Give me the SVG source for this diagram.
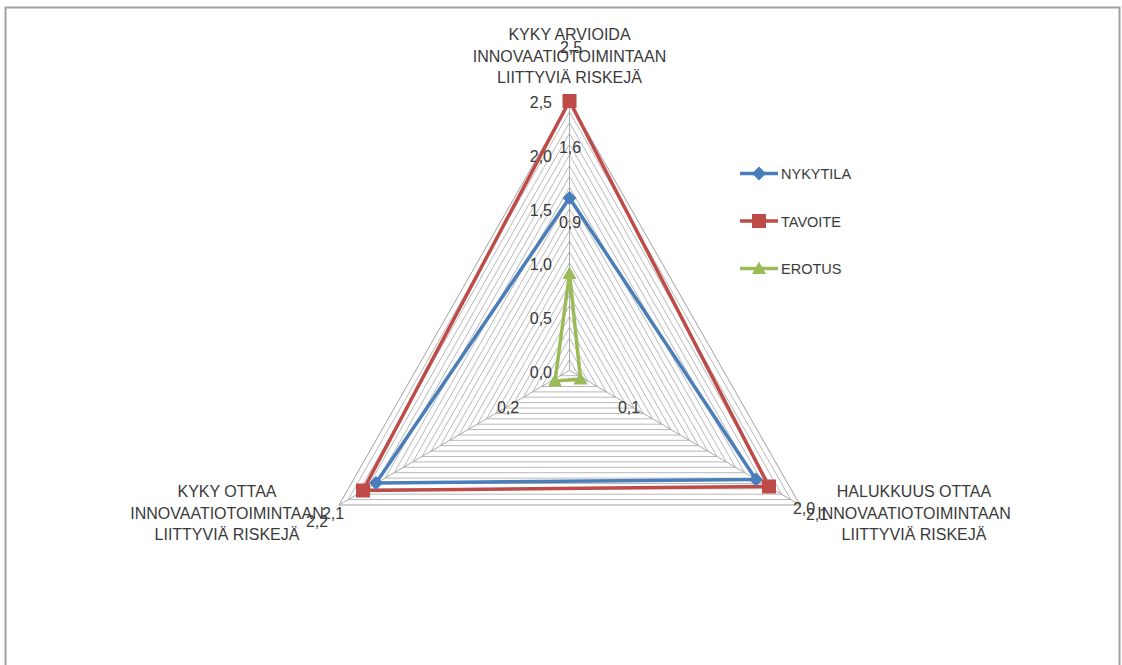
<svg xmlns="http://www.w3.org/2000/svg" width="1122" height="665" viewBox="0 0 1122 665">
  <style>
    text { font-family: "Liberation Sans", Arial, sans-serif; fill: #3a3a3a; }
    .title { font-size: 16px; text-anchor: middle; }
    .tick { font-size: 16px; text-anchor: end; }
    .dl { font-size: 16px; text-anchor: middle; }
    .leg { font-size: 14.5px; }
    .grid polygon { fill: none; stroke: #b9b9b9; stroke-width: 1; }
    .grid .outer { stroke: #a0a0a0; }
    .axis line { stroke: #aaaaaa; stroke-width: 1; }
    .s-blue { fill: none; stroke: #4a7ebb; stroke-width: 3.5; stroke-linejoin: round; }
    .s-red { fill: none; stroke: #be4b48; stroke-width: 3.5; stroke-linejoin: miter; }
    .s-green { fill: none; stroke: #9bbb59; stroke-width: 3.5; stroke-linejoin: miter; }
  </style>
  <defs>
    <path id="diamond" d="M0,-7 L7,0 L0,7 L-7,0 Z" fill="#4a7ebb"/>
    <rect id="square" x="-7" y="-7" width="14" height="14" fill="#be4b48"/>
    <path id="tri" d="M0,-7 L7,5.5 L-7,5.5 Z" fill="#9bbb59"/>
  </defs>

  <rect width="1122" height="665" fill="#ffffff"/>
  <!-- chart frame -->
  <rect x="5.5" y="7.5" width="1114" height="680" fill="none" stroke="#a0a0a0" stroke-width="2"/>

  <!-- radar grid: one triangle every 0.1 up to 2.5 -->
  <g id="grid" class="grid">
    <polygon points="569.5,359.5 560.3,375.7 578.7,375.7"/>
    <polygon points="569.5,348.8 551.1,381.1 587.9,381.1"/>
    <polygon points="569.5,338.0 541.8,386.5 597.2,386.5"/>
    <polygon points="569.5,327.2 532.6,391.9 606.4,391.9"/>
    <polygon points="569.5,316.4 523.4,397.2 615.6,397.2"/>
    <polygon points="569.5,305.7 514.2,402.6 624.8,402.6"/>
    <polygon points="569.5,294.9 505.0,408.0 634.0,408.0"/>
    <polygon points="569.5,284.1 495.7,413.4 643.3,413.4"/>
    <polygon points="569.5,273.4 486.5,418.8 652.5,418.8"/>
    <polygon points="569.5,262.6 477.3,424.2 661.7,424.2"/>
    <polygon points="569.5,251.8 468.1,429.6 670.9,429.6"/>
    <polygon points="569.5,241.0 458.9,435.0 680.1,435.0"/>
    <polygon points="569.5,230.3 449.6,440.3 689.4,440.3"/>
    <polygon points="569.5,219.5 440.4,445.7 698.6,445.7"/>
    <polygon points="569.5,208.7 431.2,451.1 707.8,451.1"/>
    <polygon points="569.5,198.0 422.0,456.5 717.0,456.5"/>
    <polygon points="569.5,187.2 412.8,461.9 726.2,461.9"/>
    <polygon points="569.5,176.4 403.5,467.3 735.5,467.3"/>
    <polygon points="569.5,165.6 394.3,472.7 744.7,472.7"/>
    <polygon points="569.5,154.9 385.1,478.1 753.9,478.1"/>
    <polygon points="569.5,144.1 375.9,483.5 763.1,483.5"/>
    <polygon points="569.5,133.3 366.7,488.8 772.3,488.8"/>
    <polygon points="569.5,122.5 357.4,494.2 781.6,494.2"/>
    <polygon points="569.5,111.8 348.2,499.6 790.8,499.6"/>
    <polygon class="outer" points="569.5,101.0 339.0,505.0 800.0,505.0"/>
  </g>
  <g id="axes" class="axis">
    <line x1="569.5" y1="370.3" x2="569.5" y2="101"/>
    <line x1="569.5" y1="370.3" x2="339" y2="505"/>
    <line x1="569.5" y1="370.3" x2="800" y2="505"/>
  </g>

  <!-- value scale on the vertical axis -->
  <g id="scale">
    <text class="tick" x="552" y="107.5">2,5</text>
    <text class="tick" x="552" y="161.5">2,0</text>
    <text class="tick" x="552" y="215.5">1,5</text>
    <text class="tick" x="552" y="269.5">1,0</text>
    <text class="tick" x="552" y="323.5">0,5</text>
    <text class="tick" x="552" y="377.5">0,0</text>
  </g>

  <!-- category titles -->
  <g id="cat-top">
    <text class="title" x="569.5" y="40">KYKY ARVIOIDA</text>
    <text class="title" x="569.5" y="61.5">INNOVAATIOTOIMINTAAN</text>
    <text class="title" x="569.5" y="83">LIITTYVIÄ RISKEJÄ</text>
  </g>
  <g id="cat-left">
    <text class="title" x="227" y="497">KYKY OTTAA</text>
    <text class="title" x="227" y="518.5">INNOVAATIOTOIMINTAAN</text>
    <text class="title" x="227" y="540">LIITTYVIÄ RISKEJÄ</text>
  </g>
  <g id="cat-right">
    <text class="title" x="914" y="497">HALUKKUUS OTTAA</text>
    <text class="title" x="914" y="518.5">INNOVAATIOTOIMINTAAN</text>
    <text class="title" x="914" y="540">LIITTYVIÄ RISKEJÄ</text>
  </g>

  <!-- data series -->
  <g id="connectors">
    <polygon class="s-red" points="569.5,101 363,490.5 769,486.5"/>
    <polygon class="s-blue" points="569.5,198 376,483 756,479.5"/>
    <polygon class="s-green" points="569.5,273.5 555,381 580.5,379"/>
  </g>

  <g id="series-tavoite">
    <use href="#square" x="569.5" y="101"/>
    <use href="#square" x="363" y="490.5"/>
    <use href="#square" x="769" y="486.5"/>
  </g>
  <g id="series-nykytila">
    <use href="#diamond" x="569.5" y="198"/>
    <use href="#diamond" x="376" y="483"/>
    <use href="#diamond" x="756" y="479.5"/>
  </g>
  <g id="series-erotus">
    <use href="#tri" x="569.5" y="273.5"/>
    <use href="#tri" x="555" y="381"/>
    <use href="#tri" x="580.5" y="379"/>
  </g>

  <!-- data labels -->
  <g id="data-labels">
    <text class="dl" x="571" y="52.5">2,5</text>
    <text class="dl" x="570" y="152.5">1,6</text>
    <text class="dl" x="570" y="227.5">0,9</text>
    <text class="dl" x="508" y="412.5">0,2</text>
    <text class="dl" x="629" y="412.5">0,1</text>
    <text class="dl" x="333" y="518.5">2,1</text>
    <text class="dl" x="317" y="526.5">2,2</text>
    <text class="dl" x="804" y="513.5">2,0</text>
    <text class="dl" x="817" y="519.5">2,1</text>
  </g>

  <!-- legend -->
  <g id="legend">
    <g id="legend-nykytila">
      <line x1="740" y1="173.5" x2="778" y2="173.5" stroke="#4a7ebb" stroke-width="3.5"/>
      <use href="#diamond" x="759" y="173.5"/>
      <text class="leg" x="781" y="179">NYKYTILA</text>
    </g>
    <g id="legend-tavoite">
      <line x1="740" y1="221" x2="778" y2="221" stroke="#be4b48" stroke-width="3.5"/>
      <use href="#square" x="759" y="221"/>
      <text class="leg" x="781" y="226.5">TAVOITE</text>
    </g>
    <g id="legend-erotus">
      <line x1="740" y1="268.5" x2="778" y2="268.5" stroke="#9bbb59" stroke-width="3.5"/>
      <use href="#tri" x="759" y="268.5"/>
      <text class="leg" x="781" y="274">EROTUS</text>
    </g>
  </g>
</svg>
